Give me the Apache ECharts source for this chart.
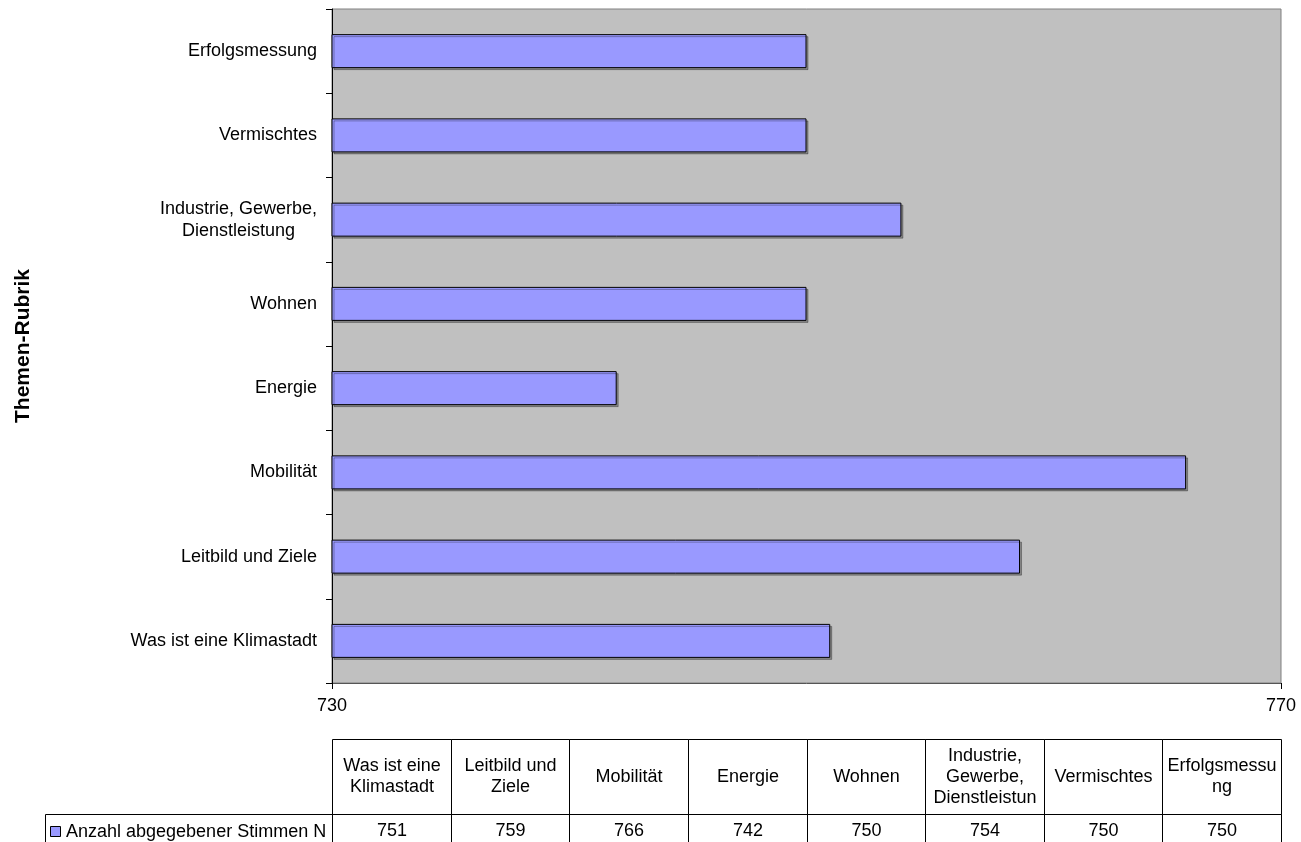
<!DOCTYPE html>
<html>
<head>
<meta charset="utf-8">
<script src="https://cdn.jsdelivr.net/npm/echarts@6/dist/echarts.min.js"></script>
<style>
  html, body { margin: 0; padding: 0; background: #fff; }
  #chart { width: 1301px; height: 842px; }
</style>
</head>
<body>
<div id="chart"></div>
<script>
  // Themen-Rubriken, von unten nach oben
  var categories = ['Was ist eine Klimastadt', 'Leitbild und Ziele', 'Mobilität', 'Energie', 'Wohnen', 'Industrie, Gewerbe,\nDienstleistung', 'Vermischtes', 'Erfolgsmessung']
  // Spaltenköpfe der Datentabelle (so umbrochen wie im Original)
  var tableHeaders = ['Was ist eine\nKlimastadt', 'Leitbild und\nZiele', 'Mobilität', 'Energie', 'Wohnen', 'Industrie,\nGewerbe,\nDienstleistun', 'Vermischtes', 'Erfolgsmessu\nng']
  var votes = [751, 759, 766, 742, 750, 754, 750, 750]
  var seriesName = 'Anzahl abgegebener Stimmen N'
  var xRange = [730, 770]

  var FONT = '"Liberation Sans", Arial, sans-serif'
  var gridLeft = 332
  var gridRight = 20
  var gridTop = 9
  var gridBottom = 159
  var chartW = 1301

  /* Datentabelle unter dem Diagramm */
  function buildTable() {
    var els = []
    var plotW = chartW - gridRight - gridLeft
    var colW = plotW / categories.length
    var headTop = 739.5
    var headBottom = 814.5
    var rowBottom = 860
    var px = function (v) { return Math.round(v) + 0.5 }
    var lineStyle = { fill: null, stroke: '#000', lineWidth: 1 }

    for (var i = 0; i < tableHeaders.length; i++) {
      var x0 = px(gridLeft + i * colW)
      var x1 = px(gridLeft + (i + 1) * colW)
      els.push({ type: 'rect', shape: { x: x0, y: headTop, width: x1 - x0, height: headBottom - headTop }, style: lineStyle, silent: true })
      els.push({ type: 'rect', shape: { x: x0, y: headBottom, width: x1 - x0, height: rowBottom - headBottom }, style: lineStyle, silent: true })
      els.push({
        type: 'text', x: (x0 + x1) / 2, y: 777, silent: true,
        style: { text: tableHeaders[i], fill: '#000', font: '18px ' + FONT, align: 'center', verticalAlign: 'middle', lineHeight: 21 }
      })
      els.push({
        type: 'text', x: (x0 + x1) / 2, y: 831, silent: true,
        style: { text: String(votes[i]), fill: '#000', font: '18px ' + FONT, align: 'center', verticalAlign: 'middle' }
      })
    }
    // Legendenzelle
    els.push({ type: 'rect', shape: { x: 45.5, y: headBottom, width: px(gridLeft) - 45.5, height: rowBottom - headBottom }, style: lineStyle, silent: true })
    els.push({ type: 'rect', shape: { x: 50.5, y: 826.5, width: 10, height: 10 }, style: { fill: '#9999FF', stroke: '#000', lineWidth: 1 }, silent: true })
    els.push({
      type: 'text', x: 66, y: 832, silent: true,
      style: { text: seriesName, fill: '#000', font: '18px ' + FONT, align: 'left', verticalAlign: 'middle' }
    })
    return els
  }

  var myChart = echarts.init(document.getElementById('chart'))
  myChart.setOption({
    animation: false,
    backgroundColor: '#fff',
    textStyle: { fontFamily: FONT },
    grid: {
      left: gridLeft,
      right: gridRight,
      top: gridTop,
      bottom: gridBottom,
      show: true,
      backgroundColor: '#C0C0C0',
      borderColor: '#808080',
      borderWidth: 1
    },
    xAxis: {
      type: 'value',
      min: xRange[0],
      max: xRange[1],
      interval: xRange[1] - xRange[0],
      axisLine: { show: true, lineStyle: { color: '#555', width: 1 } },
      axisTick: { show: true, length: 6, lineStyle: { color: '#000' } },
      axisLabel: { color: '#000', fontSize: 18, margin: 14, fontFamily: FONT },
      splitLine: { show: false }
    },
    yAxis: {
      type: 'category',
      data: categories,
      name: 'Themen-Rubrik',
      nameLocation: 'middle',
      nameRotate: 90,
      nameGap: 298,
      nameTextStyle: { color: '#000', fontSize: 21, fontWeight: 'bold', fontFamily: FONT },
      axisLine: { show: true, lineStyle: { color: '#000', width: 1 } },
      axisTick: { show: true, length: 6, lineStyle: { color: '#000' } },
      axisLabel: {
        color: '#000',
        margin: 15,
        formatter: function (v) {
          return v.split('\n').map(function (s) { return '{c|' + s + '}' }).join('\n')
        },
        rich: {
          c: { align: 'center', fontSize: 18, lineHeight: 22, color: '#000', fontFamily: FONT }
        }
      },
      splitLine: { show: false }
    },
    series: [
      {
        name: seriesName,
        type: 'bar',
        data: votes,
        barWidth: 34,
        itemStyle: {
          color: '#9999FF',
          borderColor: '#000',
          borderWidth: 1,
          shadowColor: 'rgba(0, 0, 0, 0.3)',
          shadowOffsetX: 2,
          shadowOffsetY: 2,
          shadowBlur: 0
        }
      }
    ],
    graphic: buildTable()
  })
</script>
</body>
</html>
